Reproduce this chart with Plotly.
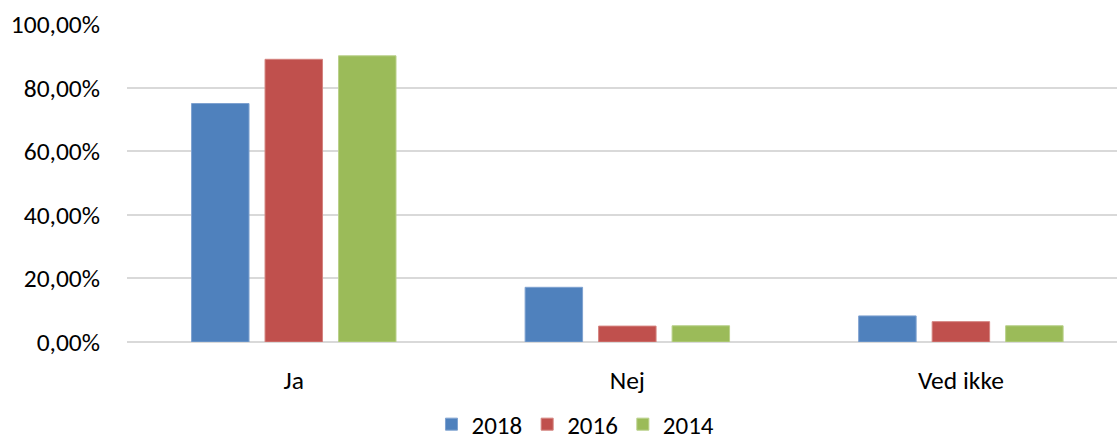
import plotly.graph_objects as go

categories = ["Ja", "Nej", "Ved ikke"]
series_names = ["2018", "2016", "2014"]
values_2018 = [0.75, 0.172, 0.082]
values_2016 = [0.889, 0.050, 0.064]
values_2014 = [0.900, 0.051, 0.051]
colors = ["#4F81BD", "#C0504D", "#9BBB59"]
edge_colors = ["#7FA2D0", "#D4837F", "#B9D08A"]
y_ticks = [0, 0.2, 0.4, 0.6, 0.8, 1.0]

font_family = "Carlito, Calibri, Lato, 'Open Sans', sans-serif"
fs = 25.5

fig = go.Figure()
for name, vals, c, ec in zip(series_names, [values_2018, values_2016, values_2014], colors, edge_colors):
    fig.add_trace(go.Bar(
        x=categories, y=vals, name=name,
        marker=dict(color=c, line=dict(color=ec, width=1)),
    ))

fig.update_layout(
    width=1117, height=443,
    margin=dict(l=127, r=0, t=24, b=101),
    paper_bgcolor="white", plot_bgcolor="white",
    barmode="group", bargap=0.339, bargroupgap=0.218,
    separators=", ",
    font=dict(family=font_family, size=fs, color="#000000"),
    showlegend=True,
    legend=dict(orientation="h", x=0.453, xanchor="center",
                yref="container", y=0.042, yanchor="middle",
                font=dict(size=25), traceorder="normal"),
    xaxis=dict(range=[-0.5, 2.468], showgrid=False, zeroline=False, showline=False,
               automargin=False,
               ticks="", ticklabelstandoff=20, tickfont=dict(size=fs)),
    yaxis=dict(range=[0, 1.0], tickvals=y_ticks, tickformat=".2%",
               automargin=False,
               showgrid=True, gridcolor="#D9D9D9", gridwidth=1.5,
               zeroline=True, zerolinecolor="#D9D9D9", zerolinewidth=1.5,
               showline=False, ticks="", ticklabelstandoff=26, tickfont=dict(size=fs)),
)

fig.write_html("out.html", config={"displayModeBar": False},
               post_script="document.body.style.margin='0';")
